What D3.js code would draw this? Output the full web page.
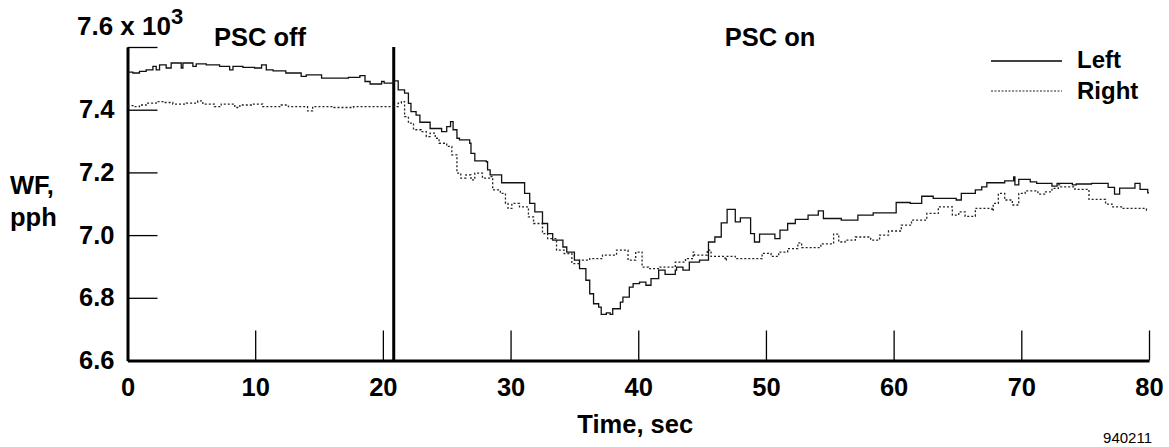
<!DOCTYPE html>
<html>
<head>
<meta charset="utf-8">
<script src="https://cdn.jsdelivr.net/npm/d3@7"></script>
<style>
  body { margin: 0; background: #fff; }
  text { font-family: "Liberation Sans", Arial, sans-serif; fill: #000; }
</style>
</head>
<body>
<div id="chart"></div>
<script>
// WF in thousands of pph, time in sec (step changes)
const leftTime = [0, 0.42, 0.94, 1.46, 1.99, 2.25, 2.51, 3.03, 3.42, 4.21, 4.34, 5.12, 5.38, 6.17, 7.21, 8.0, 8.26, 9.04, 9.95, 10.5, 10.87, 11.4, 12.4, 13.6, 14.0, 15.2, 17.3, 18.2, 18.6, 19.0, 19.9, 20.1, 20.9,
  21.2, 21.7, 22.0, 22.2, 22.6, 22.9, 23.7, 24.6, 25.0, 25.3, 25.5, 25.8, 26.0, 26.8, 26.9, 27.2, 28.1, 28.2, 28.4, 29.3, 31.1, 31.5, 31.9, 32.5, 32.9, 33.3, 34.1, 34.4, 35.0, 35.4, 35.9, 36.2, 36.5, 36.9, 37.1, 37.5, 37.8, 38.0, 38.6, 38.8, 39.3, 39.6,
  40.1, 40.6, 41.0, 41.6, 42.1, 42.9, 43.0, 43.5, 44.0, 44.8, 45.5, 46.0, 46.5, 46.96, 47.6, 48.0, 48.8, 49.1, 49.5, 50.7, 51.1, 51.7, 52.3, 53.3, 54.1, 54.5, 55.9, 57.2, 58.4,
  60.2, 61.3, 62.2, 63.1, 64.9, 65.3, 66.4, 66.9, 67.3, 68.7, 69.4, 69.5, 69.8, 70.7, 71.2, 72.4, 72.8, 74.0, 74.3, 75.5, 76.8, 77.3, 77.7, 78.9, 79.3, 79.9, 80];
const leftWF = [7.520, 7.517, 7.522, 7.527, 7.538, 7.527, 7.543, 7.533, 7.549, 7.533, 7.549, 7.538, 7.546, 7.543, 7.538, 7.527, 7.538, 7.535, 7.533, 7.543, 7.527, 7.524, 7.517, 7.506, 7.511, 7.501, 7.503, 7.509, 7.490, 7.482, 7.490, 7.485, 7.492,
  7.463, 7.453, 7.420, 7.394, 7.383, 7.360, 7.340, 7.330, 7.346, 7.362, 7.336, 7.309, 7.304, 7.293, 7.261, 7.237, 7.234, 7.208, 7.192, 7.167, 7.133, 7.101, 7.074, 7.037, 7.005, 6.984, 6.962, 6.946, 6.920, 6.893, 6.856, 6.813, 6.781, 6.770, 6.747, 6.752, 6.747, 6.765, 6.786, 6.802, 6.834, 6.845,
  6.850, 6.840, 6.861, 6.888, 6.875, 6.888, 6.898, 6.888, 6.914, 6.920, 6.978, 6.994, 7.039, 7.082, 7.042, 7.055, 7.005, 6.978, 7.003, 6.989, 7.016, 7.037, 7.050, 7.064, 7.077, 7.053, 7.048, 7.064, 7.071,
  7.104, 7.101, 7.124, 7.117, 7.112, 7.133, 7.144, 7.154, 7.167, 7.173, 7.186, 7.160, 7.178, 7.170, 7.165, 7.156, 7.165, 7.160, 7.163, 7.165, 7.152, 7.131, 7.150, 7.165, 7.146, 7.135, 7.135];

const rightTime = [0, 0.42, 0.94, 1.46, 2.25, 2.77, 3.55, 4.6, 5.5, 5.9, 6.8, 7.34, 8.4, 8.8, 9.7, 10.6, 12.04, 12.6, 14.1, 14.5, 16.1, 17.7, 19.2, 21.2, 21.45,
  21.7, 22.0, 22.4, 23.0, 23.4, 23.7, 24.1, 24.4, 25.0, 25.4, 25.8, 26.1, 26.5, 26.9, 27.2, 27.8, 28.4, 28.6, 29.2, 29.6, 29.8, 30.1, 30.7, 31.4, 31.8, 32.5, 32.9, 33.6, 34.2, 34.8, 35.4, 36.2, 37.2, 38.3, 39.2, 39.8,
  40.3, 40.8, 41.7, 42.9, 43.7, 44.3, 44.4, 45.4, 45.7, 46.8, 46.9, 47.6, 49.7, 50.4, 51.0, 51.7, 52.5, 52.8, 54.3, 55.3, 55.7, 56.2, 57.0, 58.2, 58.9, 59.6,
  60.6, 61.4, 62.6, 63.5, 64.6, 65.1, 65.6, 66.4, 67.7, 67.8, 68.2, 68.7, 69.3, 69.8, 70.3, 71.3, 71.9, 72.4, 72.9, 73.0, 74.2, 75.3, 76.6, 77.1, 77.9, 78.7, 79.8, 80];
const rightWF = [7.413, 7.410, 7.415, 7.421, 7.426, 7.423, 7.418, 7.421, 7.428, 7.418, 7.410, 7.418, 7.407, 7.415, 7.418, 7.410, 7.415, 7.410, 7.396, 7.410, 7.407, 7.410, 7.410, 7.421, 7.426,
  7.378, 7.357, 7.336, 7.330, 7.314, 7.325, 7.309, 7.293, 7.283, 7.256, 7.198, 7.182, 7.192, 7.176, 7.198, 7.182, 7.187, 7.144, 7.133, 7.101, 7.085, 7.101, 7.090, 7.058, 7.037, 7.005, 6.989, 6.952, 6.941, 6.909, 6.920, 6.925, 6.936, 6.952, 6.920, 6.946,
  6.898, 6.893, 6.898, 6.914, 6.925, 6.946, 6.936, 6.952, 6.932, 6.920, 6.932, 6.925, 6.942, 6.932, 6.946, 6.957, 6.975, 6.960, 6.972, 7.003, 6.978, 6.984, 6.994, 6.984, 7.000, 7.013,
  7.032, 7.048, 7.069, 7.090, 7.064, 7.074, 7.060, 7.085, 7.078, 7.101, 7.133, 7.112, 7.096, 7.133, 7.141, 7.131, 7.138, 7.149, 7.160, 7.154, 7.146, 7.114, 7.099, 7.090, 7.085, 7.085, 7.080, 7.080];

const xTicks = [0, 10, 20, 30, 40, 50, 60, 70, 80];
const yTicks = [6.6, 6.8, 7.0, 7.2, 7.4, 7.6];
const pscSwitch = 20.85;

const WIDTH = 1169, HEIGHT = 447;
const PLOT = { left: 127.5, right: 1149, top: 47, bottom: 360.5 };
const FONT = 25.5;

const svg = d3.select("#chart").append("svg")
  .attr("width", WIDTH)
  .attr("height", HEIGHT);
svg.append("rect").attr("width", WIDTH).attr("height", HEIGHT).attr("fill", "#fff");

const x = d3.scaleLinear().domain([0, 80]).range([PLOT.left, PLOT.right]);
const y = d3.scaleLinear().domain([6.6, 7.6]).range([PLOT.bottom, PLOT.top]);

// x axis, ticks pointing up into the plot
const xAxis = svg.append("g")
  .attr("transform", `translate(0,${PLOT.bottom})`)
  .call(d3.axisBottom(x).tickValues(xTicks).tickSize(-30).tickSizeOuter(0).tickPadding(17).tickFormat(d3.format("d")));
xAxis.select(".domain").attr("stroke", "#000").attr("stroke-width", 3);
xAxis.selectAll(".tick line").attr("stroke", "#000").attr("stroke-width", 1.3);
xAxis.selectAll(".tick text").attr("font-size", FONT).attr("font-weight", "bold")
  .attr("font-family", "Liberation Sans, Arial, sans-serif");

// y axis, ticks pointing right into the plot
const yAxis = svg.append("g")
  .attr("transform", `translate(${PLOT.left},0)`)
  .call(d3.axisLeft(y).tickValues(yTicks).tickSize(-30).tickSizeOuter(0).tickPadding(13)
    .tickFormat(d => d === 7.6 ? "" : d3.format(".1f")(d)));
yAxis.select(".domain").attr("stroke", "#000").attr("stroke-width", 3);
yAxis.selectAll(".tick line").attr("stroke", "#000").attr("stroke-width", 1.3);
yAxis.selectAll(".tick text").attr("font-size", FONT).attr("font-weight", "bold")
  .attr("font-family", "Liberation Sans, Arial, sans-serif");

// top scale label
const topLabel = svg.append("text")
  .attr("x", 77).attr("y", 35)
  .attr("font-size", 26).attr("font-weight", "bold")
  .text("7.6 x 10");
topLabel.append("tspan").attr("dy", -11).attr("font-size", 22).text("3");

// PSC switch line
svg.append("line")
  .attr("x1", x(pscSwitch)).attr("x2", x(pscSwitch))
  .attr("y1", PLOT.top).attr("y2", PLOT.bottom)
  .attr("stroke", "#000").attr("stroke-width", 3);

svg.append("text").attr("x", 260).attr("y", 46).attr("text-anchor", "middle")
  .attr("font-size", FONT).attr("font-weight", "bold").text("PSC off");
svg.append("text").attr("x", 770).attr("y", 46).attr("text-anchor", "middle")
  .attr("font-size", FONT).attr("font-weight", "bold").text("PSC on");

// series
const line = d3.line()
  .x(d => x(d[0]))
  .y(d => y(d[1]))
  .curve(d3.curveStepAfter);

const leftData = leftTime.map((t, i) => [t, leftWF[i]]);
const rightData = rightTime.map((t, i) => [t, rightWF[i]]);

svg.append("path").datum(rightData)
  .attr("d", line).attr("fill", "none")
  .attr("stroke", "#222").attr("stroke-width", 1.3).attr("stroke-dasharray", "2,2");
svg.append("path").datum(leftData)
  .attr("d", line).attr("fill", "none")
  .attr("stroke", "#111").attr("stroke-width", 1.3);

// legend
const legend = svg.append("g");
legend.append("line").attr("x1", 991).attr("x2", 1062).attr("y1", 61).attr("y2", 61)
  .attr("stroke", "#000").attr("stroke-width", 1.3);
legend.append("text").attr("x", 1077).attr("y", 68).attr("font-size", 24).attr("font-weight", "bold").text("Left");
legend.append("line").attr("x1", 991).attr("x2", 1062).attr("y1", 91).attr("y2", 91)
  .attr("stroke", "#222").attr("stroke-width", 1.2).attr("stroke-dasharray", "2,1.5");
legend.append("text").attr("x", 1077).attr("y", 99).attr("font-size", 24).attr("font-weight", "bold").text("Right");

// axis titles
svg.append("text").attr("x", 10).attr("y", 194).attr("font-size", FONT).attr("font-weight", "bold").text("WF,");
svg.append("text").attr("x", 10).attr("y", 226).attr("font-size", FONT).attr("font-weight", "bold").text("pph");
svg.append("text").attr("x", (PLOT.left + PLOT.right) / 2 - 3).attr("y", 433).attr("text-anchor", "middle")
  .attr("font-size", FONT).attr("font-weight", "bold").text("Time, sec");
svg.append("text").attr("x", 1152).attr("y", 443).attr("text-anchor", "end")
  .attr("font-size", 15).text("940211");
</script>
</body>
</html>
